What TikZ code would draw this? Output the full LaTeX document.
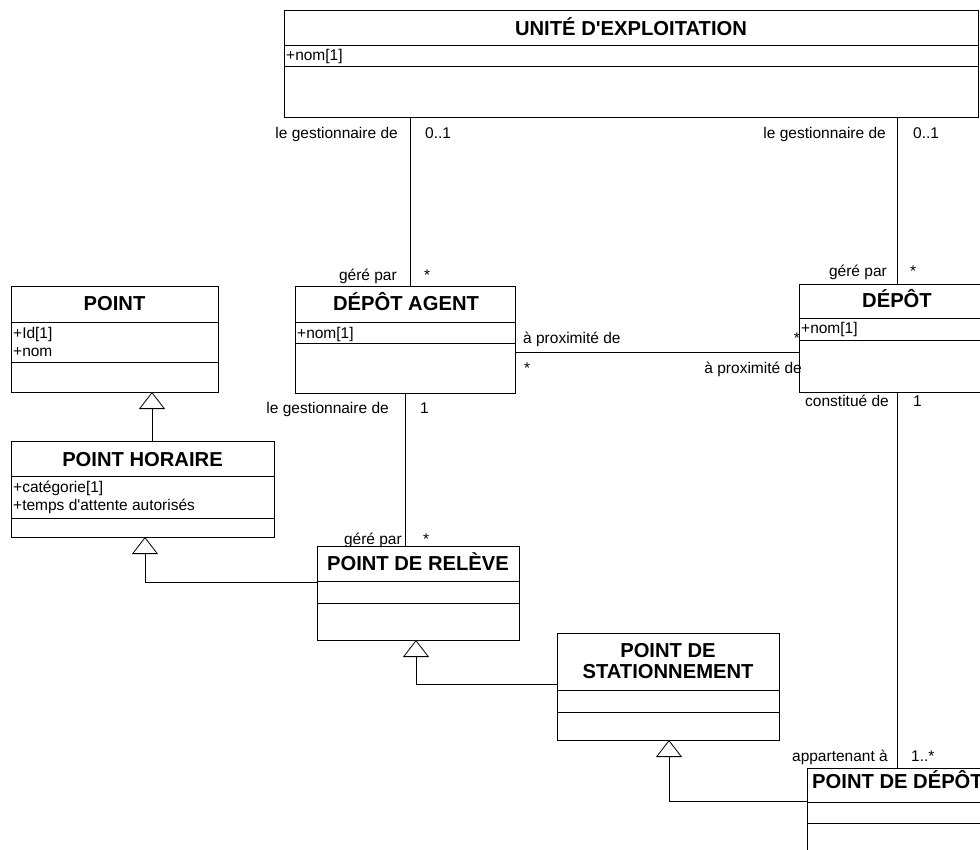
\documentclass[tikz,border=0pt]{standalone}
\usepackage{fontspec}
\setmainfont{Liberation Sans}
\usetikzlibrary{arrows.meta,calc}
\tikzset{
  classbox/.style={draw, fill=white, line width=0.8pt, inner sep=0pt, outer sep=0pt, anchor=north west},
  compart/.style={line width=0.8pt},
  classtitle/.style={font=\fontsize{20.2}{23}\selectfont\bfseries, inner sep=0pt, anchor=base},
  attr/.style={font=\fontsize{15.5}{18}\selectfont, inner sep=0pt, anchor=base west},
  rolel/.style={font=\fontsize{15.5}{18}\selectfont, inner sep=0pt, anchor=base east},
  roler/.style={font=\fontsize{15.5}{18}\selectfont, inner sep=0pt, anchor=base west},
  assoc/.style={line width=0.8pt},
  generalize/.style={line width=0.8pt, -{Triangle[open, fill=white, length=17pt, width=26pt]}}
}
\begin{document}
\begin{tikzpicture}[x=1pt, y=-1pt]
\useasboundingbox (0,0) rectangle (980,850);
\clip (0,0) rectangle (980,850);

% helper positions for connector routing
\coordinate (xua) at (410,0);
\coordinate (prox) at (0,352);
\coordinate (gph) at (152,0);
\coordinate (gpr) at (145,582);
\coordinate (gps) at (416,684);
\coordinate (gpd) at (669,801);

% ---------- classes ----------
% UNITÉ D'EXPLOITATION
\node[classbox, minimum width=694pt, minimum height=107pt] (ua) at (284,10) {};
\draw[compart] ($(ua.north west)+(0,35)$) -- ($(ua.north east)+(0,35)$);
\draw[compart] ($(ua.north west)+(0,56)$) -- ($(ua.north east)+(0,56)$);
\node[classtitle] (uat) at (631,36) {UNITÉ D\textquotesingle EXPLOITATION};
\node[attr] (uaa) at (286,61) {+nom[1]};

% DÉPÔT AGENT
\node[classbox, minimum width=220pt, minimum height=107pt] (da) at (295,286) {};
\draw[compart] ($(da.north west)+(0,36)$) -- ($(da.north east)+(0,36)$);
\draw[compart] ($(da.north west)+(0,57)$) -- ($(da.north east)+(0,57)$);
\node[classtitle] (dat) at (406,311) {DÉPÔT AGENT};
\node[attr] (daa) at (297,338) {+nom[1]};

% POINT
\node[classbox, minimum width=207pt, minimum height=106pt] (pt) at (11,286) {};
\draw[compart] ($(pt.north west)+(0,36)$) -- ($(pt.north east)+(0,36)$);
\draw[compart] ($(pt.north west)+(0,76)$) -- ($(pt.north east)+(0,76)$);
\node[classtitle] (ptt) at (114.5,311) {POINT};
\node[attr] (pta) at (13,338) {+Id[1]};
\node[attr] (ptb) at (13,356) {+nom};

% DÉPÔT
\node[classbox, minimum width=196pt, minimum height=108pt] (dep) at (799,284) {};
\draw[compart] ($(dep.north west)+(0,34)$) -- ($(dep.north east)+(0,34)$);
\draw[compart] ($(dep.north west)+(0,56)$) -- ($(dep.north east)+(0,56)$);
\node[classtitle] (dept) at (897,308) {DÉPÔT};
\node[attr] (depa) at (801,334) {+nom[1]};

% POINT HORAIRE
\node[classbox, minimum width=263pt, minimum height=96pt] (ph) at (11,441) {};
\draw[compart] ($(ph.north west)+(0,35)$) -- ($(ph.north east)+(0,35)$);
\draw[compart] ($(ph.north west)+(0,77)$) -- ($(ph.north east)+(0,77)$);
\node[classtitle] (pht) at (142.5,466) {POINT HORAIRE};
\node[attr] (pha) at (13,492) {+catégorie[1]};
\node[attr] (phb) at (13,510) {+temps d\textquotesingle attente autorisés};

% POINT DE RELÈVE
\node[classbox, minimum width=202pt, minimum height=94pt] (pr) at (317,546) {};
\draw[compart] ($(pr.north west)+(0,35)$) -- ($(pr.north east)+(0,35)$);
\draw[compart] ($(pr.north west)+(0,57)$) -- ($(pr.north east)+(0,57)$);
\node[classtitle] (prt) at (418,570) {POINT DE RELÈVE};

% POINT DE STATIONNEMENT
\node[classbox, minimum width=222pt, minimum height=107pt] (ps) at (557,633) {};
\draw[compart] ($(ps.north west)+(0,57)$) -- ($(ps.north east)+(0,57)$);
\draw[compart] ($(ps.north west)+(0,79)$) -- ($(ps.north east)+(0,79)$);
\node[classtitle] (pst1) at (668,657) {POINT DE};
\node[classtitle] (pst2) at (668,678) {STATIONNEMENT};

% POINT DE DÉPÔT (runs past the right edge)
\node[classbox, minimum width=181pt, minimum height=110pt] (pdd) at (807,768) {};
\draw[compart] ($(pdd.north west)+(0,34)$) -- ($(pdd.north east)+(0,34)$);
\draw[compart] ($(pdd.north west)+(0,55)$) -- ($(pdd.north east)+(0,55)$);
\node[classtitle] (pddt) at (897.5,788) {POINT DE DÉPÔT};

% ---------- associations ----------
\draw[assoc] (ua.south -| xua) -- (da.north -| xua);
\draw[assoc] (ua.south -| dep.north) -- (dep.north);
\draw[assoc] (da.south) -- (da.south |- pr.north);
\draw[assoc] (dep.south) -- (dep.south |- pdd.north);
\draw[assoc] (da.east |- prox) -- (dep.west |- prox);

% ---------- generalizations ----------
\draw[generalize] (ph.north -| gph) -- (pt.south -| gph);
\draw[generalize] (pr.west |- gpr) -- (gpr) -- (ph.south -| gpr);
\draw[generalize] (ps.west |- gps) -- (gps) -- (pr.south -| gps);
\draw[generalize] (pdd.west |- gpd) -- (gpd) -- (ps.south -| gpd);

% ---------- role names and multiplicities ----------
\node[rolel] (r1) at (398,139) {le gestionnaire de};
\node[roler] (m1) at (425,139) {0..1};
\node[rolel] (r2) at (886,139) {le gestionnaire de};
\node[roler] (m2) at (913,139) {0..1};

\node[rolel] (r3) at (397,281) {géré par};
\node[roler] (m3) at (424,281) {*};
\node[rolel] (r4) at (887,277) {géré par};
\node[roler] (m4) at (910,277) {*};

\node[rolel] (r5) at (389,413) {le gestionnaire de};
\node[roler] (m5) at (420,413) {1};
\node[rolel] (r6) at (402,544) {géré par};
\node[roler] (m6) at (423,544) {*};

\node[rolel] (r7) at (889,406) {constitué de};
\node[roler] (m7) at (913,406) {1};
\node[rolel] (r8) at (888,761) {appartenant à};
\node[roler] (m8) at (911,761) {1..*};

\node[roler] (r9) at (523,344) {à proximité de};
\node[roler] (m9) at (524,373) {*};
\node[rolel] (m10) at (800,344) {*};
\node[rolel] (r10) at (802,373) {à proximité de};
\end{tikzpicture}
\end{document}
